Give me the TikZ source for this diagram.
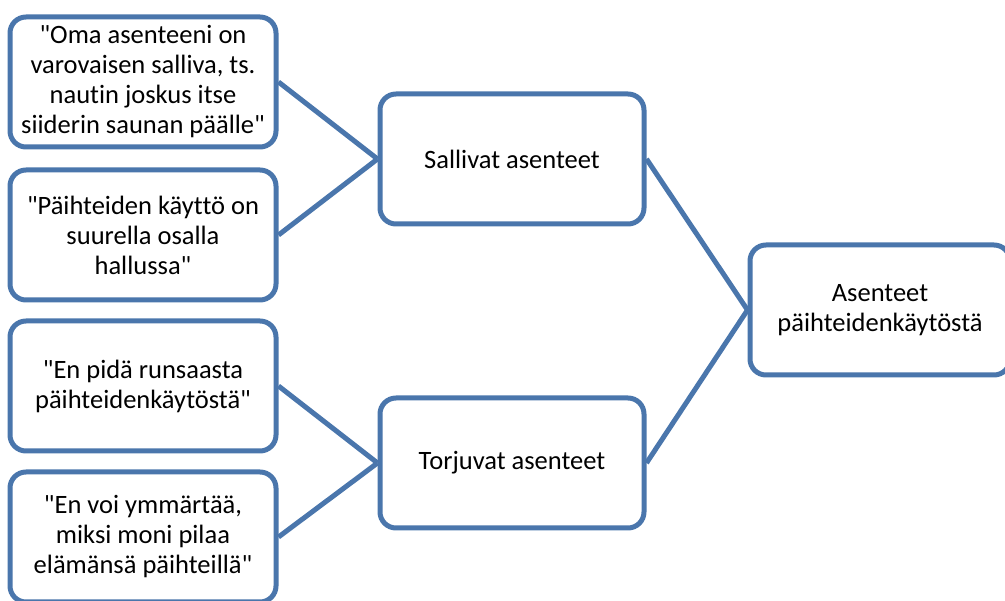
\documentclass[tikz,border=0pt]{standalone}
\usepackage{fontspec}
\setmainfont{Carlito}[Ligatures={TeXOff,NoCommon}]
\definecolor{bl}{RGB}{74,118,172}
\begin{document}
\begin{tikzpicture}[x=1pt,y=-1pt,
  box/.style={draw=bl, fill=white, line width=5pt, rounded corners=16pt,
    minimum width=266pt, minimum height=130pt, align=center,
    font=\fontsize{26.5}{30}\selectfont, inner sep=0pt},
  link/.style={draw=bl, line width=5pt}]
\useasboundingbox (0,0) rectangle (1005,601);
\clip (0,0) rectangle (1005,601);
\node[box] (q1) at (143,82) {"Oma asenteeni on\\varovaisen salliva, ts.\\nautin joskus itse\\siiderin saunan päälle"};
\node[box] (q2) at (143,235) {"Päihteiden käyttö on\\suurella osalla\\hallussa"};
\node[box] (q3) at (143,386) {"En pidä runsaasta\\päihteidenkäytöstä"};
\node[box] (q4) at (143,537) {"En voi ymmärtää,\\miksi moni pilaa\\elämänsä päihteillä"};
\node[box, minimum width=264pt] (s) at (512,159) {Sallivat asenteet};
\node[box, minimum width=264pt] (t) at (512,463) {Torjuvat asenteet};
\node[box, minimum width=260pt] (a) at (880,310) {Asenteet\\päihteidenkäytöstä};
\draw[link] (q1.east) -- (s.west);
\draw[link] (q2.east) -- (s.west);
\draw[link] (q3.east) -- (t.west);
\draw[link] (q4.east) -- (t.west);
\draw[link] (s.east) -- (a.west);
\draw[link] (t.east) -- (a.west);
\end{tikzpicture}
\end{document}
